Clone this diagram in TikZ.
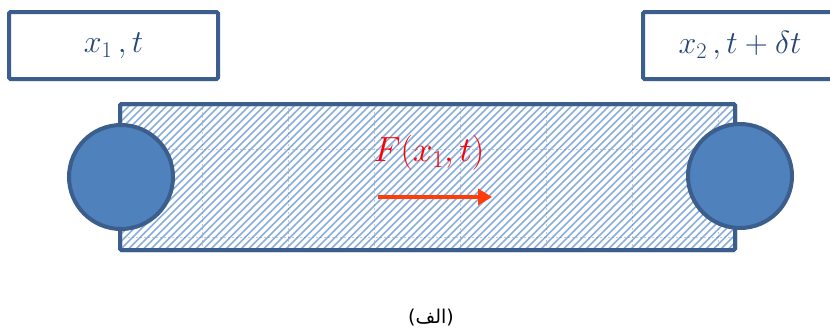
\RequirePackage{fix-cm}
\documentclass[tikz,border=0pt]{standalone}
\usepackage{fontspec}
\usetikzlibrary{arrows.meta}
\newfontfamily\arabicfont[Script=Arabic]{DejaVu Sans}
\newfontfamily\capfont{DejaVu Sans}
\TeXXeTstate=1
\definecolor{frameblue}{RGB}{59,94,140}
\definecolor{ballfill}{RGB}{79,129,189}
\definecolor{hatchblue}{RGB}{140,174,220}
\definecolor{gridblue}{RGB}{90,130,190}
\definecolor{txtblue}{RGB}{38,70,120}
\definecolor{forcered}{RGB}{255,0,0}
\definecolor{arrowred}{RGB}{255,60,10}
\tikzset{
  labelbox/.style={draw=frameblue, line width=4pt, rounded corners=1.5pt, fill=white,
    inner sep=0pt, text=txtblue, font=\fontsize{32}{38}\selectfont},
  bar/.style={draw=frameblue, line width=4pt, rounded corners=1.5pt, inner sep=0pt},
  ball/.style={circle, draw=frameblue, line width=4pt, fill=ballfill, inner sep=0pt,
    minimum size=104pt},
  forcearrow/.style={draw=arrowred, line width=4.5pt, -{Triangle[length=14pt,width=16pt]}},
}
\begin{document}
\begin{tikzpicture}[x=1pt,y=-1pt]
\useasboundingbox (0,0) rectangle (830,332);
\begin{scope}
\clip (0,0) rectangle (830,332);
% labels
\node[labelbox, minimum width=209pt, minimum height=67pt] (b1) at (113.5,45.5) {$x_1\,,t$};
\node[labelbox, minimum width=194pt, minimum height=67pt] (b2) at (740,45.5) {$x_2\,,t+\delta t$};
\end{scope}
% hatched bar
\node[bar, fill=white, minimum width=615pt, minimum height=146pt] (rod) at (427.5,177) {};
\begin{scope}
\clip (120,104) rectangle (735,250);
\foreach \c in {-30,-22.5,...,740} {
  \draw[hatchblue, line width=1.5pt] (\c,250) -- (\c+146,104);
}
\foreach \gx in {202,288,374,460,546,632,718} {
  \draw[gridblue, line width=0.8pt, dash pattern=on 2pt off 2pt, opacity=0.4] (\gx,104) -- (\gx,250);
}
\foreach \gy in {149,237} {
  \draw[gridblue, line width=0.8pt, dash pattern=on 2pt off 2pt, opacity=0.4] (120,\gy) -- (735,\gy);
}
\end{scope}
\node[bar, minimum width=615pt, minimum height=146pt] (rodframe) at (427.5,177) {};
% balls
\node[ball] (left) at (121,177) {};
\node[ball] (right) at (740,176) {};
% force
\node[text=forcered, font=\fontsize{35}{42}\selectfont] (F) at (429,153) {$F(x_1,t)$};
\coordinate (fa) at (378,197);
\coordinate (fb) at (492,197);
\draw[forcearrow] (fa) -- (fb);
% caption
\node[font=\fontsize{19}{24}\selectfont] (cap) at (431,318) {{\capfont(}{\arabicfont\beginR الف\endR}{\capfont)}};
\end{tikzpicture}
\end{document}
